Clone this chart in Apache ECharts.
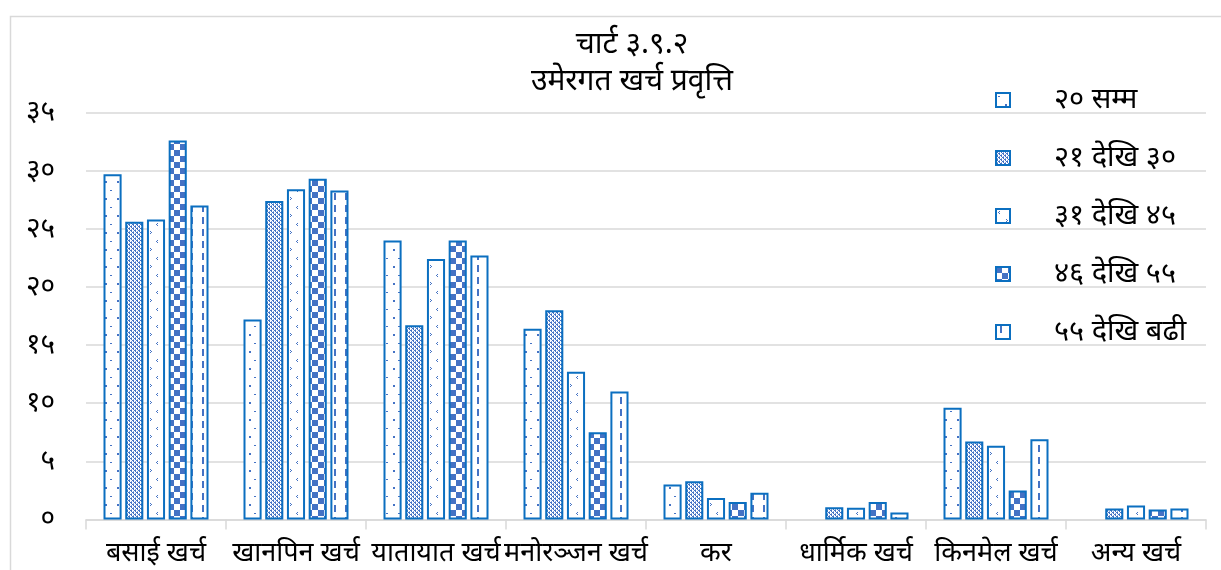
<!DOCTYPE html>
<html>
<head>
<meta charset="utf-8">
<script src="https://cdn.jsdelivr.net/npm/echarts@6/dist/echarts.min.js"></script>
<style>
html,body{margin:0;padding:0;background:#fff;}
#c{width:1221px;height:570px;}
</style>
</head>
<body>
<div id="c"></div>
<script>
// ---- data ----
const titleLines = ['चार्ट ३.९.२', 'उमेरगत खर्च प्रवृत्ति'];
const categories = ['बसाई खर्च', 'खानपिन खर्च', 'यातायात खर्च', 'मनोरञ्जन खर्च', 'कर', 'धार्मिक खर्च', 'किनमेल खर्च', 'अन्य खर्च'];
const seriesNames = ['२० सम्म', '२१ देखि ३०', '३१ देखि ४५', '४६ देखि ५५', '५५ देखि बढी'];
const upTo20    = [29.7, 17.2, 24.0, 16.4, 3.0, 0,   9.6, 0];
const age21to30 = [25.6, 27.4, 16.7, 18.0, 3.3, 1.05, 6.7, 0.95];
const age31to45 = [25.8, 28.4, 22.4, 12.7, 1.85, 1.0, 6.35, 1.2];
const age46to55 = [32.6, 29.3, 24.0, 7.5, 1.5, 1.5, 2.5, 0.85];
const above55   = [27.0, 28.3, 22.7, 11.0, 2.3, 0.6, 6.9, 0.95];
const yTickLabels = ['०', '५', '१०', '१५', '२०', '२५', '३०', '३५'];

const seriesData = [upTo20, age21to30, age31to45, age46to55, above55];
const BLUE = '#4472C4';
const EDGE = '#0B6FC0';

function mk(w, h, draw) {
  const c = document.createElement('canvas');
  c.width = w; c.height = h;
  const g = c.getContext('2d');
  g.fillStyle = '#ffffff'; g.fillRect(0, 0, w, h);
  g.fillStyle = BLUE;
  draw(g);
  return { image: c, repeat: 'repeat' };
}
const patterns = [
  // sparse dots
  mk(12, 17, g => { g.fillRect(2, 3, 2, 1); g.fillRect(9, 11, 2, 2); }),
  // dense lattice
  mk(4, 4, g => { g.fillRect(0, 0, 2, 1); g.fillRect(2, 2, 2, 1); g.fillRect(1, 1, 1, 1); g.fillRect(3, 3, 1, 1); g.fillStyle = '#8aa6dc'; g.fillRect(3, 1, 1, 1); g.fillRect(1, 3, 1, 1); }),
  // small chevrons
  mk(14, 17, g => { g.fillRect(3, 2, 1, 1); g.fillRect(2, 3, 1, 1); g.fillRect(3, 4, 1, 1);
                    g.fillRect(10, 10, 1, 1); g.fillRect(11, 11, 1, 1); g.fillRect(10, 12, 1, 1); }),
  // checkerboard
  mk(12, 12, g => { g.fillRect(0, 0, 6, 6); g.fillRect(6, 6, 6, 6); }),
  // vertical dashes
  mk(11, 12, g => { g.fillRect(4, 1, 2, 7); })
];

const chart = echarts.init(document.getElementById('c'));
const FONT = '"Noto Sans", "Noto Sans Devanagari", sans-serif';

chart.setOption({
  animation: false,
  backgroundColor: '#ffffff',
  graphic: [{
    type: 'rect', silent: true, z: -10,
    shape: { x: 10.5, y: 16.5, width: 1400, height: 700 },
    style: { fill: 'none', stroke: '#d9d9d9', lineWidth: 1.5 }
  }],
  title: {
    text: titleLines.join('\n'),
    left: 627, top: 21, textAlign: 'center',
    textStyle: { fontFamily: FONT, fontSize: 30, fontWeight: 'normal', color: '#000', lineHeight: 37 }
  },
  legend: {
    orient: 'vertical',
    left: 990, top: 80,
    icon: 'rect',
    itemWidth: 14, itemHeight: 14, itemGap: 28,
    data: seriesNames,
    textStyle: { fontFamily: FONT, fontSize: 29, color: '#000', padding: [0, 0, 0, 39], lineHeight: 30 }
  },
  grid: { left: 86, right: 15, top: 112.5, bottom: 50.5, containLabel: false },
  xAxis: {
    type: 'category',
    data: categories,
    axisLine: { lineStyle: { color: '#d9d9d9', width: 1.5 } },
    axisTick: { show: true, length: 10, lineStyle: { color: '#d9d9d9', width: 1.5 } },
    axisLabel: { interval: 0, margin: 20, fontFamily: FONT, fontSize: 27, color: '#000' }
  },
  yAxis: {
    type: 'value', min: 0, max: 35, interval: 5,
    axisLine: { show: false }, axisTick: { show: false },
    splitLine: { lineStyle: { color: '#d9d9d9', width: 1.5 } },
    axisLabel: { margin: 31, fontFamily: FONT, fontSize: 28, color: '#000',
      formatter: v => yTickLabels[Math.round(v / 5)] }
  },
  series: seriesData.map((d, i) => ({
    name: seriesNames[i],
    type: 'bar',
    data: d.map(v => v === 0 ? { value: v, itemStyle: { borderWidth: 0, opacity: 0 } } : v),
    barGap: '20%',
    barCategoryGap: '25%',
    itemStyle: { color: patterns[i], borderColor: EDGE, borderWidth: 2 }
  }))
});
</script>
</body>
</html>
